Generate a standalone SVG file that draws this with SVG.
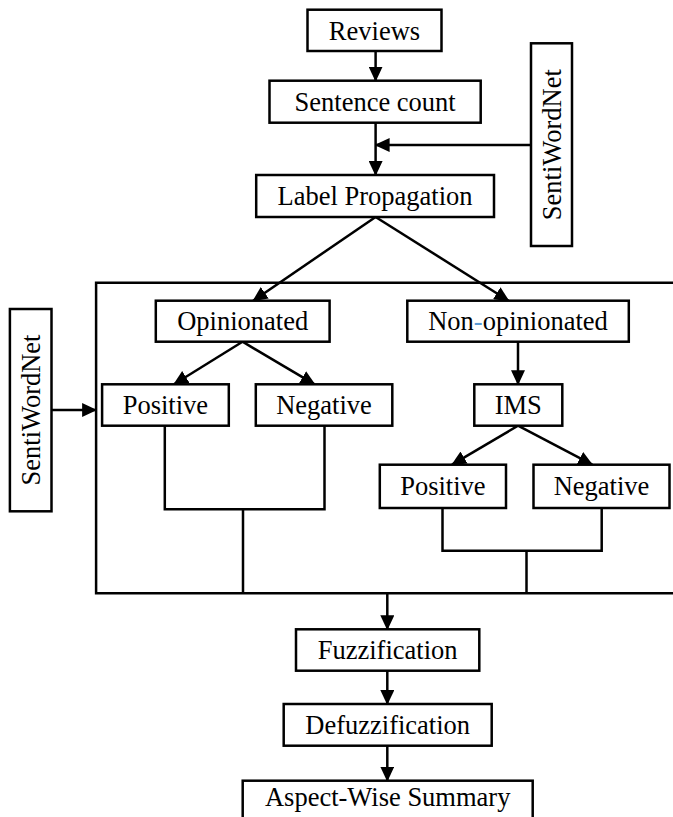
<svg xmlns="http://www.w3.org/2000/svg" width="673" height="817" viewBox="0 0 673 817">
<style>
  .box { fill: #fff; stroke: #000; stroke-width: 2.5; }
  .lbl { font-family: "Liberation Serif", "Times New Roman", serif; font-size: 26.5px; fill: #000; text-anchor: middle; }
  .conn { fill: none; stroke: #000; stroke-width: 2.5; }
  .arr { marker-end: url(#ah); }
</style>
<defs>
  <marker id="ah" markerUnits="userSpaceOnUse" viewBox="0 0 15 14" markerWidth="15" markerHeight="14" refX="14" refY="7" orient="auto">
    <path d="M0,0 L15,7 L0,14 z" fill="#000"/>
  </marker>
</defs>
<rect width="673" height="817" fill="#fff"/>

<g id="container">
  <path class="conn" d="M673,282.7 H96.1 V593.3 H673"/>
</g>

<g id="connectors">
  <line class="conn arr" x1="375.6" y1="51" x2="375.6" y2="80.7"/>
  <line class="conn arr" x1="375.6" y1="122.7" x2="375.6" y2="175"/>
  <line class="conn arr" x1="531" y1="145" x2="375.6" y2="145"/>
  <line class="conn arr" x1="375.6" y1="217" x2="253.2" y2="300.7"/>
  <line class="conn arr" x1="375.6" y1="217" x2="508.6" y2="300.7"/>
  <line class="conn arr" x1="242.5" y1="341.7" x2="174" y2="384.3"/>
  <line class="conn arr" x1="242.5" y1="341.7" x2="314.6" y2="384.3"/>
  <line class="conn arr" x1="518" y1="341.7" x2="518" y2="384.3"/>
  <line class="conn arr" x1="518" y1="425.7" x2="452" y2="464.7"/>
  <line class="conn arr" x1="518" y1="425.7" x2="592.3" y2="464.7"/>
  <path class="conn" d="M164.8,425.7 V509.3 H324.5 V425.7 M243,509.3 V593.3"/>
  <path class="conn" d="M442.5,508 V550.7 H601.7 V508 M526.5,550.7 V593.3"/>
  <line class="conn arr" x1="51.5" y1="410" x2="96.1" y2="410"/>
  <line class="conn arr" x1="387.3" y1="593.3" x2="387.3" y2="629.3"/>
  <line class="conn arr" x1="387.3" y1="670.7" x2="387.3" y2="704"/>
  <line class="conn arr" x1="387.3" y1="745.7" x2="387.3" y2="780.7"/>
</g>

<g id="reviews">
  <rect class="box" x="307.5" y="9.7" width="134" height="41.3"/>
  <text class="lbl" x="374.5" y="39.5">Reviews</text>
</g>
<g id="sentence-count">
  <rect class="box" x="269.5" y="80.7" width="211.2" height="42"/>
  <text class="lbl" x="375.1" y="110.7">Sentence count</text>
</g>
<g id="senti-right">
  <rect class="box" x="531" y="43.3" width="41" height="202.7"/>
  <text class="lbl" transform="translate(560.5,144.7) rotate(-90)" x="0" y="0">SentiWordNet</text>
</g>
<g id="label-propagation">
  <rect class="box" x="256.2" y="175" width="237.8" height="42"/>
  <text class="lbl" x="375.1" y="205">Label Propagation</text>
</g>
<g id="opinionated">
  <rect class="box" x="155.8" y="300.7" width="173.8" height="41"/>
  <text class="lbl" x="242.7" y="330.4">Opinionated</text>
</g>
<g id="non-opinionated">
  <rect class="box" x="407.3" y="300.7" width="221.5" height="41"/>
  <text class="lbl" x="518" y="330.4">Non<tspan fill="#5b9bd5">-</tspan>opinionated</text>
</g>
<g id="senti-left">
  <rect class="box" x="9.9" y="309" width="41.6" height="202.3"/>
  <text class="lbl" transform="translate(39.8,410) rotate(-90)" x="0" y="0">SentiWordNet</text>
</g>
<g id="positive-left">
  <rect class="box" x="102.1" y="384.3" width="126.7" height="41.4"/>
  <text class="lbl" x="165.4" y="414">Positive</text>
</g>
<g id="negative-left">
  <rect class="box" x="255.8" y="384.3" width="136.5" height="41.4"/>
  <text class="lbl" x="324" y="414">Negative</text>
</g>
<g id="ims">
  <rect class="box" x="474.3" y="384.3" width="88" height="41.4"/>
  <text class="lbl" x="518.3" y="414">IMS</text>
</g>
<g id="positive-right">
  <rect class="box" x="379.8" y="464.7" width="126.2" height="43.3"/>
  <text class="lbl" x="442.9" y="495.3">Positive</text>
</g>
<g id="negative-right">
  <rect class="box" x="533.5" y="464.7" width="136" height="43.3"/>
  <text class="lbl" x="601.5" y="495.3">Negative</text>
</g>
<g id="fuzzification">
  <rect class="box" x="296" y="629.3" width="183.3" height="41.4"/>
  <text class="lbl" x="387.6" y="659.3">Fuzzification</text>
</g>
<g id="defuzzification">
  <rect class="box" x="283.7" y="704" width="208" height="41.7"/>
  <text class="lbl" x="387.7" y="734">Defuzzification</text>
</g>
<g id="aspect-summary">
  <rect class="box" x="242.7" y="780.7" width="290" height="50"/>
  <text class="lbl" x="387.7" y="806">Aspect-Wise Summary</text>
</g>
</svg>
